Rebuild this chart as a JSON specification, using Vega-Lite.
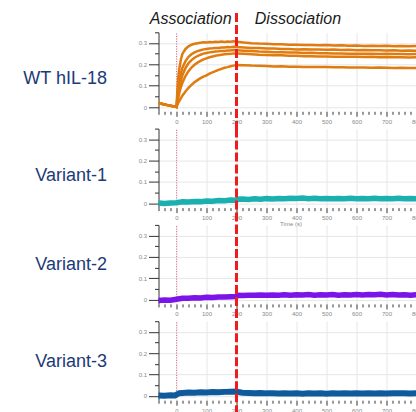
{
"$schema":"https://vega.github.io/schema/vega-lite/v6.json",
"autosize":{"type":"none"},
"padding":{"left":158.5,"top":32.3,"right":257.5,"bottom":379.7},
"background":"white",
"config":{"view":{"stroke":null},"axis":{"labelFont":"Liberation Sans","labelFontSize":6,"labelColor":"#888","tickColor":"#333","domainColor":"#333","gridColor":"#e6e6e6","labelPadding":2,"titleFont":"Liberation Sans"}},
"datasets":{
"pink":[{"t":0,"v":0,"v2":0.35}],
"lab":[{"t":-89,"v":0.413,"txt":"Association"},{"t":261,"v":0.413,"txt":"Dissociation"}],
"wt":[
{"s":1,"t":-60,"v":0.02},{"s":1,"t":-50,"v":0.015},{"s":1,"t":-40,"v":0.012},{"s":1,"t":-30,"v":0.009},{"s":1,"t":-20,"v":0.006},{"s":1,"t":-10,"v":0.003},{"s":1,"t":0,"v":0.0},
{"s":1,"t":3,"v":0.08},{"s":1,"t":6,"v":0.14},{"s":1,"t":10,"v":0.185},{"s":1,"t":15,"v":0.225},{"s":1,"t":20,"v":0.25},{"s":1,"t":30,"v":0.272},{"s":1,"t":40,"v":0.284},{"s":1,"t":50,"v":0.292},{"s":1,"t":60,"v":0.296},{"s":1,"t":70,"v":0.299},{"s":1,"t":80,"v":0.301},{"s":1,"t":90,"v":0.303},{"s":1,"t":100,"v":0.302},{"s":1,"t":110,"v":0.305},{"s":1,"t":120,"v":0.304},{"s":1,"t":130,"v":0.306},{"s":1,"t":140,"v":0.305},{"s":1,"t":150,"v":0.307},{"s":1,"t":160,"v":0.305},{"s":1,"t":170,"v":0.307},{"s":1,"t":180,"v":0.306},{"s":1,"t":190,"v":0.308},{"s":1,"t":200,"v":0.306},
{"s":1,"t":225,"v":0.302},{"s":1,"t":250,"v":0.299},{"s":1,"t":275,"v":0.297},{"s":1,"t":300,"v":0.296},{"s":1,"t":325,"v":0.294},{"s":1,"t":350,"v":0.294},{"s":1,"t":375,"v":0.292},{"s":1,"t":400,"v":0.292},{"s":1,"t":425,"v":0.29},{"s":1,"t":450,"v":0.291},{"s":1,"t":475,"v":0.289},{"s":1,"t":500,"v":0.29},{"s":1,"t":525,"v":0.288},{"s":1,"t":550,"v":0.289},{"s":1,"t":575,"v":0.287},{"s":1,"t":600,"v":0.288},{"s":1,"t":625,"v":0.286},{"s":1,"t":650,"v":0.287},{"s":1,"t":675,"v":0.286},{"s":1,"t":700,"v":0.287},{"s":1,"t":725,"v":0.285},{"s":1,"t":750,"v":0.286},{"s":1,"t":775,"v":0.285},{"s":1,"t":800,"v":0.286},{"s":1,"t":825,"v":0.284},{"s":1,"t":850,"v":0.285},{"s":1,"t":875,"v":0.284},{"s":1,"t":900,"v":0.285},
{"s":2,"t":-60,"v":0.02},{"s":2,"t":-50,"v":0.015},{"s":2,"t":-40,"v":0.012},{"s":2,"t":-30,"v":0.009},{"s":2,"t":-20,"v":0.006},{"s":2,"t":-10,"v":0.003},{"s":2,"t":0,"v":0.0},
{"s":2,"t":3,"v":0.05},{"s":2,"t":6,"v":0.09},{"s":2,"t":10,"v":0.125},{"s":2,"t":15,"v":0.16},{"s":2,"t":20,"v":0.185},{"s":2,"t":30,"v":0.215},{"s":2,"t":40,"v":0.235},{"s":2,"t":50,"v":0.247},{"s":2,"t":60,"v":0.256},{"s":2,"t":70,"v":0.262},{"s":2,"t":80,"v":0.266},{"s":2,"t":90,"v":0.27},{"s":2,"t":100,"v":0.272},{"s":2,"t":110,"v":0.274},{"s":2,"t":120,"v":0.275},{"s":2,"t":130,"v":0.277},{"s":2,"t":140,"v":0.277},{"s":2,"t":150,"v":0.279},{"s":2,"t":160,"v":0.279},{"s":2,"t":170,"v":0.281},{"s":2,"t":180,"v":0.28},{"s":2,"t":190,"v":0.282},{"s":2,"t":200,"v":0.281},
{"s":2,"t":225,"v":0.279},{"s":2,"t":250,"v":0.277},{"s":2,"t":275,"v":0.276},{"s":2,"t":300,"v":0.274},{"s":2,"t":325,"v":0.274},{"s":2,"t":350,"v":0.272},{"s":2,"t":375,"v":0.272},{"s":2,"t":400,"v":0.27},{"s":2,"t":425,"v":0.271},{"s":2,"t":450,"v":0.269},{"s":2,"t":475,"v":0.27},{"s":2,"t":500,"v":0.268},{"s":2,"t":525,"v":0.269},{"s":2,"t":550,"v":0.267},{"s":2,"t":575,"v":0.268},{"s":2,"t":600,"v":0.266},{"s":2,"t":625,"v":0.267},{"s":2,"t":650,"v":0.266},{"s":2,"t":675,"v":0.266},{"s":2,"t":700,"v":0.265},{"s":2,"t":725,"v":0.266},{"s":2,"t":750,"v":0.264},{"s":2,"t":775,"v":0.265},{"s":2,"t":800,"v":0.264},{"s":2,"t":825,"v":0.265},{"s":2,"t":850,"v":0.263},{"s":2,"t":875,"v":0.264},{"s":2,"t":900,"v":0.263},
{"s":3,"t":-60,"v":0.02},{"s":3,"t":-50,"v":0.015},{"s":3,"t":-40,"v":0.012},{"s":3,"t":-30,"v":0.009},{"s":3,"t":-20,"v":0.006},{"s":3,"t":-10,"v":0.003},{"s":3,"t":0,"v":0.0},
{"s":3,"t":3,"v":0.035},{"s":3,"t":6,"v":0.065},{"s":3,"t":10,"v":0.095},{"s":3,"t":15,"v":0.125},{"s":3,"t":20,"v":0.15},{"s":3,"t":30,"v":0.183},{"s":3,"t":40,"v":0.205},{"s":3,"t":50,"v":0.22},{"s":3,"t":60,"v":0.231},{"s":3,"t":70,"v":0.239},{"s":3,"t":80,"v":0.245},{"s":3,"t":90,"v":0.25},{"s":3,"t":100,"v":0.253},{"s":3,"t":110,"v":0.256},{"s":3,"t":120,"v":0.258},{"s":3,"t":130,"v":0.26},{"s":3,"t":140,"v":0.261},{"s":3,"t":150,"v":0.263},{"s":3,"t":160,"v":0.263},{"s":3,"t":170,"v":0.265},{"s":3,"t":180,"v":0.265},{"s":3,"t":190,"v":0.267},{"s":3,"t":200,"v":0.266},
{"s":3,"t":225,"v":0.264},{"s":3,"t":250,"v":0.262},{"s":3,"t":275,"v":0.26},{"s":3,"t":300,"v":0.259},{"s":3,"t":325,"v":0.257},{"s":3,"t":350,"v":0.257},{"s":3,"t":375,"v":0.255},{"s":3,"t":400,"v":0.255},{"s":3,"t":425,"v":0.253},{"s":3,"t":450,"v":0.254},{"s":3,"t":475,"v":0.252},{"s":3,"t":500,"v":0.252},{"s":3,"t":525,"v":0.251},{"s":3,"t":550,"v":0.251},{"s":3,"t":575,"v":0.25},{"s":3,"t":600,"v":0.25},{"s":3,"t":625,"v":0.249},{"s":3,"t":650,"v":0.25},{"s":3,"t":675,"v":0.248},{"s":3,"t":700,"v":0.249},{"s":3,"t":725,"v":0.248},{"s":3,"t":750,"v":0.248},{"s":3,"t":775,"v":0.247},{"s":3,"t":800,"v":0.248},{"s":3,"t":825,"v":0.247},{"s":3,"t":850,"v":0.247},{"s":3,"t":875,"v":0.246},{"s":3,"t":900,"v":0.247},
{"s":4,"t":-60,"v":0.02},{"s":4,"t":-50,"v":0.015},{"s":4,"t":-40,"v":0.012},{"s":4,"t":-30,"v":0.009},{"s":4,"t":-20,"v":0.006},{"s":4,"t":-10,"v":0.003},{"s":4,"t":0,"v":0.0},
{"s":4,"t":3,"v":0.025},{"s":4,"t":6,"v":0.045},{"s":4,"t":10,"v":0.07},{"s":4,"t":15,"v":0.095},{"s":4,"t":20,"v":0.115},{"s":4,"t":30,"v":0.145},{"s":4,"t":40,"v":0.168},{"s":4,"t":50,"v":0.185},{"s":4,"t":60,"v":0.198},{"s":4,"t":70,"v":0.208},{"s":4,"t":80,"v":0.216},{"s":4,"t":90,"v":0.223},{"s":4,"t":100,"v":0.228},{"s":4,"t":110,"v":0.233},{"s":4,"t":120,"v":0.237},{"s":4,"t":130,"v":0.24},{"s":4,"t":140,"v":0.243},{"s":4,"t":150,"v":0.245},{"s":4,"t":160,"v":0.247},{"s":4,"t":170,"v":0.248},{"s":4,"t":180,"v":0.249},{"s":4,"t":190,"v":0.251},{"s":4,"t":200,"v":0.251},
{"s":4,"t":225,"v":0.249},{"s":4,"t":250,"v":0.247},{"s":4,"t":275,"v":0.245},{"s":4,"t":300,"v":0.244},{"s":4,"t":325,"v":0.242},{"s":4,"t":350,"v":0.242},{"s":4,"t":375,"v":0.24},{"s":4,"t":400,"v":0.24},{"s":4,"t":425,"v":0.238},{"s":4,"t":450,"v":0.238},{"s":4,"t":475,"v":0.237},{"s":4,"t":500,"v":0.237},{"s":4,"t":525,"v":0.236},{"s":4,"t":550,"v":0.236},{"s":4,"t":575,"v":0.235},{"s":4,"t":600,"v":0.235},{"s":4,"t":625,"v":0.234},{"s":4,"t":650,"v":0.235},{"s":4,"t":675,"v":0.233},{"s":4,"t":700,"v":0.234},{"s":4,"t":725,"v":0.233},{"s":4,"t":750,"v":0.233},{"s":4,"t":775,"v":0.232},{"s":4,"t":800,"v":0.233},{"s":4,"t":825,"v":0.232},{"s":4,"t":850,"v":0.232},{"s":4,"t":875,"v":0.231},{"s":4,"t":900,"v":0.232},
{"s":5,"t":-60,"v":0.02},{"s":5,"t":-50,"v":0.015},{"s":5,"t":-40,"v":0.012},{"s":5,"t":-30,"v":0.009},{"s":5,"t":-20,"v":0.006},{"s":5,"t":-10,"v":0.003},{"s":5,"t":0,"v":0.0},
{"s":5,"t":3,"v":0.01},{"s":5,"t":6,"v":0.02},{"s":5,"t":10,"v":0.03},{"s":5,"t":15,"v":0.043},{"s":5,"t":20,"v":0.054},{"s":5,"t":30,"v":0.073},{"s":5,"t":40,"v":0.09},{"s":5,"t":50,"v":0.104},{"s":5,"t":60,"v":0.116},{"s":5,"t":70,"v":0.126},{"s":5,"t":80,"v":0.135},{"s":5,"t":90,"v":0.142},{"s":5,"t":100,"v":0.148},{"s":5,"t":110,"v":0.156},{"s":5,"t":120,"v":0.162},{"s":5,"t":130,"v":0.168},{"s":5,"t":140,"v":0.174},{"s":5,"t":150,"v":0.179},{"s":5,"t":160,"v":0.184},{"s":5,"t":170,"v":0.187},{"s":5,"t":180,"v":0.191},{"s":5,"t":190,"v":0.194},{"s":5,"t":200,"v":0.197},
{"s":5,"t":225,"v":0.196},{"s":5,"t":250,"v":0.194},{"s":5,"t":275,"v":0.193},{"s":5,"t":300,"v":0.192},{"s":5,"t":325,"v":0.19},{"s":5,"t":350,"v":0.191},{"s":5,"t":375,"v":0.189},{"s":5,"t":400,"v":0.189},{"s":5,"t":425,"v":0.188},{"s":5,"t":450,"v":0.188},{"s":5,"t":475,"v":0.187},{"s":5,"t":500,"v":0.187},{"s":5,"t":525,"v":0.186},{"s":5,"t":550,"v":0.186},{"s":5,"t":575,"v":0.185},{"s":5,"t":600,"v":0.185},{"s":5,"t":625,"v":0.185},{"s":5,"t":650,"v":0.184},{"s":5,"t":675,"v":0.185},{"s":5,"t":700,"v":0.184},{"s":5,"t":725,"v":0.183},{"s":5,"t":750,"v":0.184},{"s":5,"t":775,"v":0.183},{"s":5,"t":800,"v":0.183},{"s":5,"t":825,"v":0.182},{"s":5,"t":850,"v":0.183},{"s":5,"t":875,"v":0.182},{"s":5,"t":900,"v":0.182}
],
"v1":[{"t":-60,"v":0.002},{"t":-40,"v":-0.001},{"t":-20,"v":0.002},{"t":0,"v":0.003},{"t":20,"v":0.007},{"t":40,"v":0.006},{"t":60,"v":0.009},{"t":80,"v":0.008},{"t":100,"v":0.011},{"t":120,"v":0.01},{"t":140,"v":0.013},{"t":160,"v":0.012},{"t":180,"v":0.015},{"t":200,"v":0.014},{"t":205,"v":0.019},{"t":220,"v":0.02},{"t":240,"v":0.018},{"t":260,"v":0.021},{"t":280,"v":0.019},{"t":300,"v":0.022},{"t":320,"v":0.02},{"t":340,"v":0.023},{"t":360,"v":0.021},{"t":380,"v":0.024},{"t":400,"v":0.023},{"t":420,"v":0.025},{"t":440,"v":0.022},{"t":460,"v":0.024},{"t":480,"v":0.022},{"t":500,"v":0.023},{"t":520,"v":0.021},{"t":540,"v":0.023},{"t":560,"v":0.021},{"t":580,"v":0.024},{"t":600,"v":0.022},{"t":620,"v":0.023},{"t":640,"v":0.021},{"t":660,"v":0.024},{"t":680,"v":0.022},{"t":700,"v":0.023},{"t":720,"v":0.021},{"t":740,"v":0.024},{"t":760,"v":0.022},{"t":780,"v":0.023},{"t":800,"v":0.021},{"t":820,"v":0.024},{"t":840,"v":0.022},{"t":860,"v":0.023},{"t":880,"v":0.021},{"t":900,"v":0.023}],
"v2":[{"t":-60,"v":-0.004},{"t":-40,"v":-0.002},{"t":-20,"v":-0.003},{"t":0,"v":0.002},{"t":20,"v":0.006},{"t":40,"v":0.007},{"t":60,"v":0.009},{"t":80,"v":0.008},{"t":100,"v":0.011},{"t":120,"v":0.01},{"t":140,"v":0.012},{"t":160,"v":0.012},{"t":180,"v":0.014},{"t":200,"v":0.015},{"t":205,"v":0.02},{"t":220,"v":0.019},{"t":240,"v":0.021},{"t":260,"v":0.02},{"t":280,"v":0.022},{"t":300,"v":0.02},{"t":320,"v":0.022},{"t":340,"v":0.021},{"t":360,"v":0.023},{"t":380,"v":0.021},{"t":400,"v":0.023},{"t":420,"v":0.022},{"t":440,"v":0.024},{"t":460,"v":0.021},{"t":480,"v":0.023},{"t":500,"v":0.022},{"t":520,"v":0.024},{"t":540,"v":0.021},{"t":560,"v":0.023},{"t":580,"v":0.022},{"t":600,"v":0.024},{"t":620,"v":0.022},{"t":640,"v":0.024},{"t":660,"v":0.023},{"t":680,"v":0.025},{"t":700,"v":0.022},{"t":720,"v":0.024},{"t":740,"v":0.022},{"t":760,"v":0.023},{"t":780,"v":0.021},{"t":800,"v":0.023},{"t":820,"v":0.022},{"t":840,"v":0.024},{"t":860,"v":0.021},{"t":880,"v":0.023},{"t":900,"v":0.022}],
"v3":[{"t":-60,"v":0.002},{"t":-40,"v":0.001},{"t":-20,"v":0.003},{"t":-5,"v":0.002},{"t":0,"v":0.006},{"t":10,"v":0.013},{"t":20,"v":0.014},{"t":40,"v":0.016},{"t":60,"v":0.015},{"t":80,"v":0.017},{"t":100,"v":0.016},{"t":120,"v":0.018},{"t":140,"v":0.017},{"t":160,"v":0.019},{"t":180,"v":0.02},{"t":200,"v":0.021},{"t":210,"v":0.017},{"t":220,"v":0.015},{"t":240,"v":0.014},{"t":260,"v":0.013},{"t":280,"v":0.014},{"t":300,"v":0.012},{"t":320,"v":0.013},{"t":340,"v":0.011},{"t":360,"v":0.012},{"t":380,"v":0.011},{"t":400,"v":0.012},{"t":420,"v":0.01},{"t":440,"v":0.012},{"t":460,"v":0.011},{"t":480,"v":0.012},{"t":500,"v":0.01},{"t":520,"v":0.012},{"t":540,"v":0.011},{"t":560,"v":0.013},{"t":580,"v":0.011},{"t":600,"v":0.012},{"t":620,"v":0.011},{"t":640,"v":0.013},{"t":660,"v":0.011},{"t":680,"v":0.012},{"t":700,"v":0.011},{"t":720,"v":0.013},{"t":740,"v":0.012},{"t":760,"v":0.013},{"t":780,"v":0.011},{"t":800,"v":0.013},{"t":820,"v":0.012},{"t":840,"v":0.013},{"t":860,"v":0.011},{"t":880,"v":0.013},{"t":900,"v":0.012}]
},
"spacing":17.3,
"bounds":"flush",
"vconcat":[
{"width":288,"height":79,
 "encoding":{
  "x":{"field":"t","type":"quantitative","scale":{"domain":[-60,900],"nice":false,"zero":false},"axis":{"title":null,"domain":false,"values":[-60,-40,-20,0,20,40,60,80,100,120,140,160,180,200,220,240,260,280,300,320,340,360,380,400,420,440,460,480,500,520,540,560,580,600,620,640,660,680,700,720,740,760,780,800,820,840,860,880,900],"labelExpr":"datum.value % 100 == 0 ? datum.label : ''","tickSize":{"condition":{"test":"datum.value % 100 == 0","value":5},"value":3},"gridOpacity":{"condition":{"test":"datum.value % 100 == 0","value":1},"value":0}}},
  "y":{"field":"v","type":"quantitative","scale":{"domain":[-0.02,0.35],"nice":false,"zero":false},"axis":{"values":[0,0.05,0.1,0.15,0.2,0.25,0.3,0.35],"labelExpr":"round(datum.value*100) % 10 == 0 ? (datum.value == 0 ? '0' : format(datum.value, '.1f')) : ''","tickSize":{"condition":{"test":"round(datum.value*100) % 10 == 0","value":10},"value":4},"gridOpacity":{"condition":{"test":"round(datum.value*100) % 10 == 0","value":1},"value":0},"title":"WT hIL-18","titleAngle":0,"titleAlign":"right","titleBaseline":"middle","titleX":-52,"titleY":46,"titleFontSize":18,"titleFontWeight":"normal","titleColor":"#1c3a78"}}
 },
 "layer":[
  {"data":{"name":"pink"},"mark":{"type":"rule","color":"#e36a96","strokeDash":[1,1.5],"strokeWidth":1},"encoding":{"y2":{"field":"v2"}}},
  {"data":{"name":"wt"},"mark":{"type":"line","color":"#e07b10","strokeWidth":2.5},"encoding":{"detail":{"field":"s","type":"nominal"}}},
  {"data":{"values":[{"t":200,"v":0.44,"v2":-0.105}]},"mark":{"type":"rule","color":"#ee1c1c","strokeWidth":3,"strokeDash":[9,3]},"encoding":{"y2":{"field":"v2"}}},
  {"data":{"name":"lab"},"mark":{"type":"text","align":"left","baseline":"middle","fontStyle":"italic","fontSize":16,"font":"Liberation Sans","color":"#1a1a1a"},"encoding":{"text":{"field":"txt"}}}
 ]
},
{"width":288,"height":79,
 "encoding":{
  "x":{"field":"t","type":"quantitative","scale":{"domain":[-60,900],"nice":false,"zero":false},"axis":{"title":"Time (s)","titleFontSize":6,"titleColor":"#888","titleFontWeight":"normal","titlePadding":0,"titleX":132,"domain":false,"values":[-60,-40,-20,0,20,40,60,80,100,120,140,160,180,200,220,240,260,280,300,320,340,360,380,400,420,440,460,480,500,520,540,560,580,600,620,640,660,680,700,720,740,760,780,800,820,840,860,880,900],"labelExpr":"datum.value % 100 == 0 ? datum.label : ''","tickSize":{"condition":{"test":"datum.value % 100 == 0","value":5},"value":3},"gridOpacity":{"condition":{"test":"datum.value % 100 == 0","value":1},"value":0}}},
  "y":{"field":"v","type":"quantitative","scale":{"domain":[-0.02,0.35],"nice":false,"zero":false},"axis":{"values":[0,0.05,0.1,0.15,0.2,0.25,0.3,0.35],"labelExpr":"round(datum.value*100) % 10 == 0 ? (datum.value == 0 ? '0' : format(datum.value, '.1f')) : ''","tickSize":{"condition":{"test":"round(datum.value*100) % 10 == 0","value":10},"value":4},"gridOpacity":{"condition":{"test":"round(datum.value*100) % 10 == 0","value":1},"value":0},"title":"Variant-1","titleAngle":0,"titleAlign":"right","titleBaseline":"middle","titleX":-52,"titleY":46.7,"titleFontSize":18,"titleFontWeight":"normal","titleColor":"#1c3a78"}}
 },
 "layer":[
  {"data":{"name":"pink"},"mark":{"type":"rule","color":"#e36a96","strokeDash":[1,1.5],"strokeWidth":1},"encoding":{"y2":{"field":"v2"}}},
  {"data":{"name":"v1"},"mark":{"type":"line","color":"#1ab0b0","strokeWidth":5.5},"encoding":{}},
  {"data":{"values":[{"t":200,"v":0.35,"v2":-0.105}]},"mark":{"type":"rule","color":"#ee1c1c","strokeWidth":3,"strokeDash":[9,3]},"encoding":{"y2":{"field":"v2"}}}
 ]
},
{"width":288,"height":79,
 "encoding":{
  "x":{"field":"t","type":"quantitative","scale":{"domain":[-60,900],"nice":false,"zero":false},"axis":{"title":null,"domain":false,"values":[-60,-40,-20,0,20,40,60,80,100,120,140,160,180,200,220,240,260,280,300,320,340,360,380,400,420,440,460,480,500,520,540,560,580,600,620,640,660,680,700,720,740,760,780,800,820,840,860,880,900],"labelExpr":"datum.value % 100 == 0 ? datum.label : ''","tickSize":{"condition":{"test":"datum.value % 100 == 0","value":5},"value":3},"gridOpacity":{"condition":{"test":"datum.value % 100 == 0","value":1},"value":0}}},
  "y":{"field":"v","type":"quantitative","scale":{"domain":[-0.02,0.35],"nice":false,"zero":false},"axis":{"values":[0,0.05,0.1,0.15,0.2,0.25,0.3,0.35],"labelExpr":"round(datum.value*100) % 10 == 0 ? (datum.value == 0 ? '0' : format(datum.value, '.1f')) : ''","tickSize":{"condition":{"test":"round(datum.value*100) % 10 == 0","value":10},"value":4},"gridOpacity":{"condition":{"test":"round(datum.value*100) % 10 == 0","value":1},"value":0},"title":"Variant-2","titleAngle":0,"titleAlign":"right","titleBaseline":"middle","titleX":-52,"titleY":39.7,"titleFontSize":18,"titleFontWeight":"normal","titleColor":"#1c3a78"}}
 },
 "layer":[
  {"data":{"name":"pink"},"mark":{"type":"rule","color":"#e36a96","strokeDash":[1,1.5],"strokeWidth":1},"encoding":{"y2":{"field":"v2"}}},
  {"data":{"name":"v2"},"mark":{"type":"line","color":"#7a14e8","strokeWidth":5.5},"encoding":{}},
  {"data":{"values":[{"t":200,"v":0.35,"v2":-0.105}]},"mark":{"type":"rule","color":"#ee1c1c","strokeWidth":3,"strokeDash":[9,3]},"encoding":{"y2":{"field":"v2"}}}
 ]
},
{"width":288,"height":79,
 "encoding":{
  "x":{"field":"t","type":"quantitative","scale":{"domain":[-60,900],"nice":false,"zero":false},"axis":{"title":null,"domain":false,"values":[-60,-40,-20,0,20,40,60,80,100,120,140,160,180,200,220,240,260,280,300,320,340,360,380,400,420,440,460,480,500,520,540,560,580,600,620,640,660,680,700,720,740,760,780,800,820,840,860,880,900],"labelExpr":"datum.value % 100 == 0 ? datum.label : ''","tickSize":{"condition":{"test":"datum.value % 100 == 0","value":5},"value":3},"gridOpacity":{"condition":{"test":"datum.value % 100 == 0","value":1},"value":0}}},
  "y":{"field":"v","type":"quantitative","scale":{"domain":[-0.02,0.35],"nice":false,"zero":false},"axis":{"values":[0,0.05,0.1,0.15,0.2,0.25,0.3,0.35],"labelExpr":"round(datum.value*100) % 10 == 0 ? (datum.value == 0 ? '0' : format(datum.value, '.1f')) : ''","tickSize":{"condition":{"test":"round(datum.value*100) % 10 == 0","value":10},"value":4},"gridOpacity":{"condition":{"test":"round(datum.value*100) % 10 == 0","value":1},"value":0},"title":"Variant-3","titleAngle":0,"titleAlign":"right","titleBaseline":"middle","titleX":-52,"titleY":40.4,"titleFontSize":18,"titleFontWeight":"normal","titleColor":"#1c3a78"}}
 },
 "layer":[
  {"data":{"name":"pink"},"mark":{"type":"rule","color":"#e36a96","strokeDash":[1,1.5],"strokeWidth":1},"encoding":{"y2":{"field":"v2"}}},
  {"data":{"name":"v3"},"mark":{"type":"line","color":"#0e5a9c","strokeWidth":6},"encoding":{}},
  {"data":{"values":[{"t":200,"v":0.35,"v2":-0.09}]},"mark":{"type":"rule","color":"#ee1c1c","strokeWidth":3,"strokeDash":[9,3]},"encoding":{"y2":{"field":"v2"}}}
 ]
}
]
}
